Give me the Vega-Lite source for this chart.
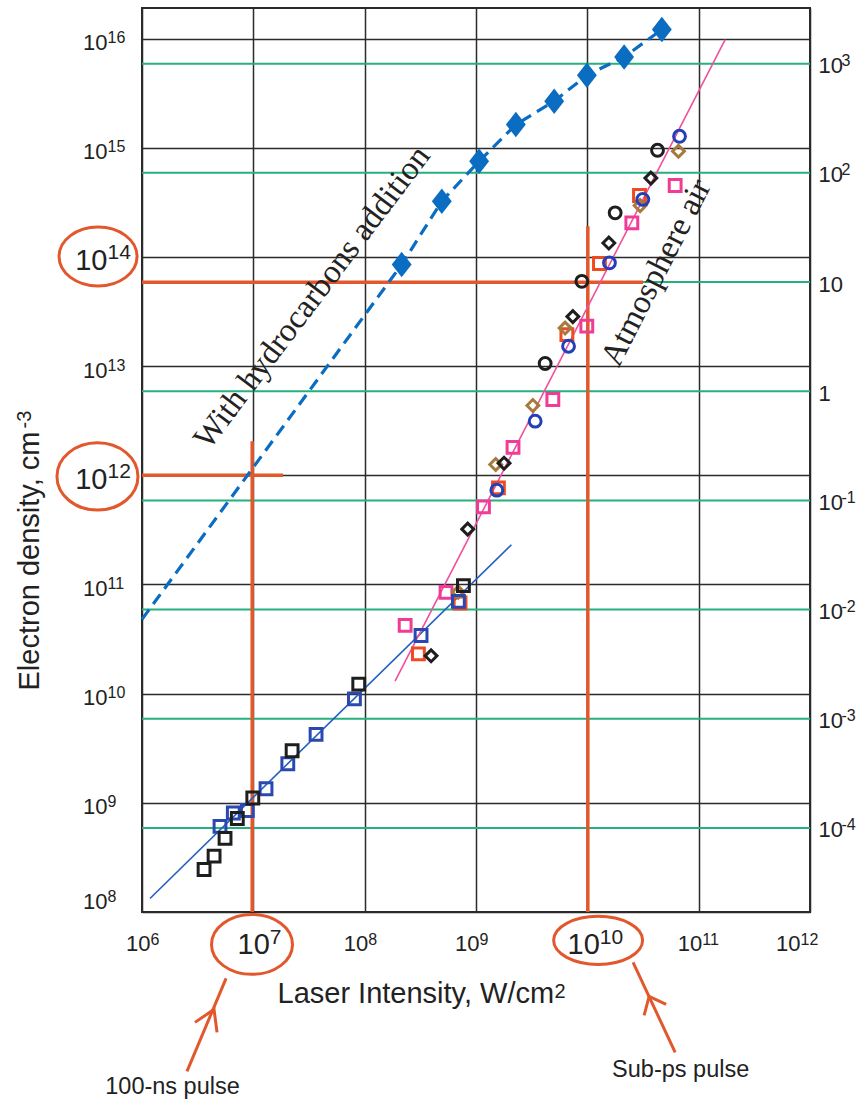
{
  "$schema": "https://vega.github.io/schema/vega-lite/v6.json",
  "width": 668,
  "height": 904,
  "autosize": {"type": "none"},
  "padding": {"left": 142, "top": 8, "right": 51, "bottom": 190},
  "background": "white",
  "config": {
    "view": {"stroke": "#2b2b2b", "strokeWidth": 2},
    "axis": {
      "labelFont": "Liberation Sans",
      "titleFont": "Liberation Sans",
      "labelColor": "#222222",
      "titleColor": "#222222",
      "titleFontWeight": "normal",
      "domain": false,
      "ticks": false,
      "tickSize": 0,
      "labelFlush": false,
      "labelOverlap": false,
      "grid": false
    }
  },
  "datasets": {
    "green": [{"v": 1e-4}, {"v": 1e-3}, {"v": 1e-2}, {"v": 0.1}, {"v": 1}, {"v": 10}, {"v": 100}, {"v": 1000}],
    "cross": [
      {"x": 1e6, "x2": 1.85e7, "y": 1e12, "y2": 1e12},
      {"x": 9.77e6, "x2": 9.77e6, "y": 1e8, "y2": 2.05e12},
      {"x": 1e6, "x2": 3.16e10, "y": 5.86e13, "y2": 5.86e13},
      {"x": 1.01e10, "x2": 1.01e10, "y": 1e8, "y2": 1.91e14}
    ],
    "fits": [
      {"fit": "ns", "x": 1.18e6, "y": 1.33e8},
      {"fit": "ns", "x": 2.08e9, "y": 2.31e11},
      {"fit": "air", "x": 1.875e8, "y": 1.3e10},
      {"fit": "air", "x": 1.73e11, "y": 9.77e15}
    ],
    "hydro": [
      {"k": "fit", "x": 1e6, "y": 4.79e10},
      {"k": "m", "x": 2.15e8, "y": 8.51e13},
      {"k": "m", "x": 4.93e8, "y": 3.24e14},
      {"k": "m", "x": 1.067e9, "y": 7.52e14},
      {"k": "m", "x": 2.28e9, "y": 1.63e15},
      {"k": "m", "x": 5.04e9, "y": 2.67e15},
      {"k": "m", "x": 9.91e9, "y": 4.61e15},
      {"k": "m", "x": 2.14e10, "y": 6.79e15},
      {"k": "m", "x": 4.67e10, "y": 1.208e16}
    ],
    "pts": [
      {"s": "rsq", "x": 3.04e8, "y": 2.31e10},
      {"s": "rsq", "x": 7.19e8, "y": 6.76e10},
      {"s": "rsq", "x": 1.59e9, "y": 7.67e11},
      {"s": "rsq", "x": 6.55e9, "y": 1.945e13},
      {"s": "rsq", "x": 1.285e10, "y": 8.71e13},
      {"s": "rsq", "x": 2.94e10, "y": 3.65e14},
      {"s": "psq", "x": 2.31e8, "y": 4.22e10},
      {"s": "psq", "x": 5.38e8, "y": 8.47e10},
      {"s": "psq", "x": 1.167e9, "y": 5.14e11},
      {"s": "psq", "x": 2.15e9, "y": 1.8e12},
      {"s": "psq", "x": 4.9e9, "y": 4.94e12},
      {"s": "psq", "x": 9.89e9, "y": 2.32e13},
      {"s": "psq", "x": 2.51e10, "y": 2.05e14},
      {"s": "psq", "x": 6.15e10, "y": 4.51e14},
      {"s": "brdi", "x": 6.92e8, "y": 8.51e10},
      {"s": "brdi", "x": 1.503e9, "y": 1.256e12},
      {"s": "brdi", "x": 3.24e9, "y": 4.36e12},
      {"s": "brdi", "x": 6.31e9, "y": 2.23e13},
      {"s": "brdi", "x": 2.98e10, "y": 2.95e14},
      {"s": "brdi", "x": 6.58e10, "y": 9.29e14},
      {"s": "bdi", "x": 3.95e8, "y": 2.22e10},
      {"s": "bdi", "x": 8.43e8, "y": 3.21e11},
      {"s": "bdi", "x": 1.786e9, "y": 1.291e12},
      {"s": "bdi", "x": 7.41e9, "y": 2.84e13},
      {"s": "bdi", "x": 1.56e10, "y": 1.34e14},
      {"s": "bdi", "x": 3.72e10, "y": 5.27e14},
      {"s": "blsq", "x": 5.02e6, "y": 6.08e8},
      {"s": "blsq", "x": 6.61e6, "y": 8.07e8},
      {"s": "blsq", "x": 8.83e6, "y": 8.51e8},
      {"s": "blsq", "x": 1.3e7, "y": 1.346e9},
      {"s": "blsq", "x": 2.04e7, "y": 2.28e9},
      {"s": "blsq", "x": 3.66e7, "y": 4.23e9},
      {"s": "blsq", "x": 8.09e7, "y": 8.97e9},
      {"s": "blsq", "x": 3.21e8, "y": 3.41e10},
      {"s": "blsq", "x": 6.95e8, "y": 7.0e10},
      {"s": "bsq", "x": 3.61e6, "y": 2.45e8},
      {"s": "bsq", "x": 4.44e6, "y": 3.25e8},
      {"s": "bsq", "x": 5.57e6, "y": 4.72e8},
      {"s": "bsq", "x": 7.18e6, "y": 7.19e8},
      {"s": "bsq", "x": 9.89e6, "y": 1.107e9},
      {"s": "bsq", "x": 2.23e7, "y": 3.0e9},
      {"s": "bsq", "x": 8.85e7, "y": 1.224e10},
      {"s": "bsq", "x": 7.71e8, "y": 9.77e10},
      {"s": "blci", "x": 1.538e9, "y": 7.31e11},
      {"s": "blci", "x": 3.4e9, "y": 3.13e12},
      {"s": "blci", "x": 6.78e9, "y": 1.521e13},
      {"s": "blci", "x": 1.58e10, "y": 8.83e13},
      {"s": "blci", "x": 3.15e10, "y": 3.36e14},
      {"s": "blci", "x": 6.73e10, "y": 1.274e15},
      {"s": "bci", "x": 4.18e9, "y": 1.057e13},
      {"s": "bci", "x": 8.93e9, "y": 5.98e13},
      {"s": "bci", "x": 1.778e10, "y": 2.535e14},
      {"s": "bci", "x": 4.27e10, "y": 9.48e14}
    ],
    "arrows": [
      {"part": "a1s", "x": 2.535e6, "y": 3.467e6},
      {"part": "a1s", "x": 5.69e6, "y": 2.466e7},
      {"part": "a1h", "x": 2.99e6, "y": 9.75e6},
      {"part": "a1h", "x": 4.436e6, "y": 1.282e7},
      {"part": "a1h", "x": 4.72e6, "y": 7.89e6},
      {"part": "a2s", "x": 6.15e10, "y": 5.18e6},
      {"part": "a2s", "x": 2.576e10, "y": 3.45e7},
      {"part": "a2h", "x": 3.236e10, "y": 1.13e7},
      {"part": "a2h", "x": 3.59e10, "y": 1.687e7},
      {"part": "a2h", "x": 5.105e10, "y": 1.426e7}
    ],
    "ellipses": [
      {"name": "e14", "x": 4.03e5, "y": 1.009e14},
      {"name": "e12", "x": 3.98e5, "y": 9.75e11},
      {"name": "e7", "x": 9.73e6, "y": 5.05e7},
      {"name": "e10", "x": 1.25e10, "y": 5.5e7}
    ],
    "notes": [
      {"label": "100-ns pulse", "x": 1.88e6, "y": 2.14e6},
      {"label": "Sub-ps pulse", "x": 6.89e10, "y": 3.05e6}
    ]
  },
  "layer": [
    {
      "data": {"name": "green"},
      "layer": [
        {
          "mark": {"type": "rule", "color": "#25b07c", "strokeWidth": 2},
          "encoding": {
            "y": {
              "field": "v", "type": "quantitative",
              "scale": {"type": "log", "domain": [1.698e-5, 3236], "nice": false},
              "axis": {
                "orient": "right",
                "values": [1e-4, 1e-3, 1e-2, 0.1, 1, 10, 100, 1000],
                "labelExpr": "datum.value > 0.5 && datum.value < 2 ? '1' : '10'",
                "labelAlign": "left", "labelBaseline": "middle",
                "labelPadding": 8, "labelFontSize": 22, "labelOffset": 2,
                "title": null
              }
            }
          }
        },
        {
          "mark": {"type": "rule", "opacity": 0},
          "encoding": {
            "y": {
              "field": "v", "type": "quantitative",
              "scale": {"type": "log", "domain": [1.698e-5, 3236], "nice": false},
              "axis": {
                "orient": "right",
                "values": [1e-4, 1e-3, 1e-2, 0.1, 1, 10, 100, 1000],
                "labelExpr": "datum.value > 0.5 && datum.value < 20 ? '' : '' + round(log(datum.value)/LN10)",
                "labelAlign": "left", "labelBaseline": "middle",
                "labelPadding": 31, "labelFontSize": 16, "labelOffset": -3,
                "title": null
              }
            }
          }
        }
      ],
      "resolve": {"axis": {"y": "independent"}}
    },
    {
      "layer": [
        {
          "data": {"name": "cross"},
          "mark": {"type": "rule", "color": "#e2582c", "strokeWidth": 3.5},
          "encoding": {
            "x": {
              "field": "x", "type": "quantitative",
              "scale": {"type": "log", "domain": [1e6, 1e12], "nice": false},
              "axis": {
                "orient": "bottom",
                "values": [1e6, 1e7, 1e8, 1e9, 1e10, 1e11, 1e12],
                "grid": true, "gridColor": "#2b2b2b", "gridWidth": 1.5,
                "labelExpr": "'10'",
                "labelAlign": "right", "labelBaseline": "top",
                "labelFontSize": {"condition": {"test": "abs(log(datum.value)/LN10-7)<0.01 || abs(log(datum.value)/LN10-10)<0.01", "value": 29}, "value": 22},
                "labelPadding": {"condition": {"test": "abs(log(datum.value)/LN10-7)<0.01 || abs(log(datum.value)/LN10-10)<0.01", "value": 18}, "value": 21},
                "labelOffset": {"condition": [
                  {"test": "abs(log(datum.value)/LN10-6)<0.01", "value": 8},
                  {"test": "abs(log(datum.value)/LN10-7)<0.01", "value": 16},
                  {"test": "abs(log(datum.value)/LN10-10)<0.01", "value": 12},
                  {"test": "abs(log(datum.value)/LN10-12)<0.01", "value": -10}
                ], "value": 3},
                "title": "Laser Intensity, W/cm",
                "titleFontSize": 29, "titleX": 135, "titleY": 90,
                "titleAlign": "left", "titleBaseline": "alphabetic", "titleAngle": 0
              }
            },
            "x2": {"field": "x2"},
            "y": {
              "field": "y", "type": "quantitative",
              "scale": {"type": "log", "domain": [1e8, 1.905e16], "nice": false},
              "axis": {
                "orient": "left",
                "values": [1e8, 1e9, 1e10, 1e11, 1e12, 1e13, 1e14, 1e15, 1e16],
                "grid": true, "gridColor": "#2b2b2b", "gridWidth": 1.5,
                "labelExpr": "'10'",
                "labelAlign": "right", "labelBaseline": "middle",
                "labelPadding": 35,
                "labelFontSize": {"condition": {"test": "abs(log(datum.value)/LN10-14)<0.01 || abs(log(datum.value)/LN10-12)<0.01", "value": 29}, "value": 22},
                "labelOffset": {"condition": {"test": "abs(log(datum.value)/LN10-8)<0.01", "value": -11}, "value": 4},
                "title": "Electron density, cm",
                "titleFontSize": 29, "titleAngle": 270, "titleX": -104, "titleY": 682,
                "titleAlign": "left", "titleBaseline": "alphabetic"
              }
            },
            "y2": {"field": "y2"}
          }
        },
        {
          "data": {"name": "fits"},
          "transform": [{"filter": "datum.fit == 'ns'"}],
          "mark": {"type": "line", "color": "#2060c0", "strokeWidth": 1.6},
          "encoding": {
            "x": {
              "field": "x", "type": "quantitative",
              "scale": {"type": "log", "domain": [1e6, 1e12], "nice": false},
              "axis": {
                "orient": "bottom",
                "values": [1e6, 1e7, 1e8, 1e9, 1e10, 1e11, 1e12],
                "labelExpr": "'' + round(log(datum.value)/LN10)",
                "labelAlign": "left", "labelBaseline": "top",
                "labelFontSize": {"condition": {"test": "abs(log(datum.value)/LN10-7)<0.01 || abs(log(datum.value)/LN10-10)<0.01", "value": 21}, "value": 16},
                "labelPadding": {"condition": {"test": "abs(log(datum.value)/LN10-7)<0.01 || abs(log(datum.value)/LN10-10)<0.01", "value": 14}, "value": 19},
                "labelOffset": {"condition": [
                  {"test": "abs(log(datum.value)/LN10-6)<0.01", "value": 8},
                  {"test": "abs(log(datum.value)/LN10-7)<0.01", "value": 16},
                  {"test": "abs(log(datum.value)/LN10-10)<0.01", "value": 12},
                  {"test": "abs(log(datum.value)/LN10-12)<0.01", "value": -10}
                ], "value": 3},
                "title": "2",
                "titleFontSize": 20, "titleX": 412, "titleY": 85,
                "titleAlign": "left", "titleBaseline": "alphabetic", "titleAngle": 0
              }
            },
            "y": {
              "field": "y", "type": "quantitative",
              "scale": {"type": "log", "domain": [1e8, 1.905e16], "nice": false},
              "axis": {
                "orient": "left",
                "values": [1e8, 1e9, 1e10, 1e11, 1e12, 1e13, 1e14, 1e15, 1e16],
                "labelExpr": "'' + round(log(datum.value)/LN10)",
                "labelAlign": "left", "labelBaseline": "middle",
                "labelPadding": 35,
                "labelFontSize": {"condition": {"test": "abs(log(datum.value)/LN10-14)<0.01 || abs(log(datum.value)/LN10-12)<0.01", "value": 21}, "value": 16},
                "labelOffset": {"condition": [
                  {"test": "abs(log(datum.value)/LN10-8)<0.01", "value": -16},
                  {"test": "abs(log(datum.value)/LN10-14)<0.01 || abs(log(datum.value)/LN10-12)<0.01", "value": -4}
                ], "value": -1},
                "title": "-3",
                "titleFontSize": 20, "titleAngle": 270, "titleX": -112, "titleY": 420,
                "titleAlign": "left", "titleBaseline": "alphabetic"
              }
            }
          }
        },
        {
          "data": {"name": "fits"},
          "transform": [{"filter": "datum.fit == 'air'"}],
          "mark": {"type": "line", "color": "#f0509c", "strokeWidth": 1.6},
          "encoding": {
            "x": {"field": "x", "type": "quantitative", "scale": {"type": "log", "domain": [1e6, 1e12], "nice": false}, "axis": null},
            "y": {"field": "y", "type": "quantitative", "scale": {"type": "log", "domain": [1e8, 1.905e16], "nice": false}, "axis": null}
          }
        },
        {
          "data": {"name": "hydro"},
          "mark": {"type": "line", "color": "#0b6dc2", "strokeWidth": 3.2, "strokeDash": [12, 7]},
          "encoding": {
            "x": {"field": "x", "type": "quantitative", "scale": {"type": "log", "domain": [1e6, 1e12], "nice": false}, "axis": null},
            "y": {"field": "y", "type": "quantitative", "scale": {"type": "log", "domain": [1e8, 1.905e16], "nice": false}, "axis": null}
          }
        },
        {
          "data": {"name": "hydro"},
          "transform": [{"filter": "datum.k == 'm'"}],
          "mark": {"type": "point", "shape": "M 0 -1 L 0.78 0 L 0 1 L -0.78 0 Z", "size": 650, "filled": true, "opacity": 1, "color": "#0b6dc2"},
          "encoding": {
            "x": {"field": "x", "type": "quantitative", "scale": {"type": "log", "domain": [1e6, 1e12], "nice": false}, "axis": null},
            "y": {"field": "y", "type": "quantitative", "scale": {"type": "log", "domain": [1e8, 1.905e16], "nice": false}, "axis": null}
          }
        },
        {
          "data": {"name": "pts"},
          "mark": {"type": "point", "filled": false, "opacity": 1, "strokeWidth": 3},
          "encoding": {
            "x": {"field": "x", "type": "quantitative", "scale": {"type": "log", "domain": [1e6, 1e12], "nice": false}, "axis": null},
            "y": {"field": "y", "type": "quantitative", "scale": {"type": "log", "domain": [1e8, 1.905e16], "nice": false}, "axis": null},
            "color": {"field": "s", "type": "nominal", "legend": null, "scale": {
              "domain": ["rsq", "psq", "brdi", "bdi", "blsq", "bsq", "blci", "bci"],
              "range": ["#f04a22", "#f03c96", "#a67a3c", "#1e1e1e", "#2a48b0", "#1e1e1e", "#2440b8", "#1e1e1e"]}},
            "shape": {"field": "s", "type": "nominal", "legend": null, "scale": {
              "domain": ["rsq", "psq", "brdi", "bdi", "blsq", "bsq", "blci", "bci"],
              "range": ["square", "square", "diamond", "diamond", "square", "square", "circle", "circle"]}},
            "size": {"field": "s", "type": "ordinal", "legend": null, "scale": {
              "domain": ["rsq", "psq", "brdi", "bdi", "blsq", "bsq", "blci", "bci"],
              "range": [140, 140, 290, 290, 145, 150, 200, 125]}}
          }
        },
        {
          "data": {"values": [{"label": "With hydrocarbons addition", "x": 3.37e7, "y": 4.25e13}]},
          "mark": {"type": "text", "font": "Liberation Serif", "fontSize": 33, "angle": 307, "align": "center", "baseline": "middle", "color": "#222222", "clip": false},
          "encoding": {
            "x": {"field": "x", "type": "quantitative", "scale": {"type": "log", "domain": [1e6, 1e12], "nice": false}, "axis": null},
            "y": {"field": "y", "type": "quantitative", "scale": {"type": "log", "domain": [1e8, 1.905e16], "nice": false}, "axis": null},
            "text": {"field": "label"}
          }
        },
        {
          "data": {"values": [{"label": "Atmosphere air", "x": 4.15e10, "y": 7.19e13}]},
          "mark": {"type": "text", "font": "Liberation Serif", "fontSize": 33, "angle": 297, "align": "center", "baseline": "middle", "color": "#222222", "clip": false},
          "encoding": {
            "x": {"field": "x", "type": "quantitative", "scale": {"type": "log", "domain": [1e6, 1e12], "nice": false}, "axis": null},
            "y": {"field": "y", "type": "quantitative", "scale": {"type": "log", "domain": [1e8, 1.905e16], "nice": false}, "axis": null},
            "text": {"field": "label"}
          }
        },
        {
          "data": {"name": "notes"},
          "mark": {"type": "text", "font": "Liberation Sans", "fontSize": 23.5, "align": "center", "baseline": "alphabetic", "color": "#222222", "clip": false},
          "encoding": {
            "x": {"field": "x", "type": "quantitative", "scale": {"type": "log", "domain": [1e6, 1e12], "nice": false}, "axis": null},
            "y": {"field": "y", "type": "quantitative", "scale": {"type": "log", "domain": [1e8, 1.905e16], "nice": false}, "axis": null},
            "text": {"field": "label"}
          }
        },
        {
          "data": {"name": "arrows"},
          "mark": {"type": "line", "color": "#e2582c", "strokeWidth": 3, "clip": false},
          "encoding": {
            "x": {"field": "x", "type": "quantitative", "scale": {"type": "log", "domain": [1e6, 1e12], "nice": false}, "axis": null},
            "y": {"field": "y", "type": "quantitative", "scale": {"type": "log", "domain": [1e8, 1.905e16], "nice": false}, "axis": null},
            "detail": {"field": "part"}
          }
        },
        {
          "data": {"name": "ellipses"},
          "transform": [{"filter": "datum.name == 'e14'"}],
          "mark": {"type": "point", "shape": "M -1 0 A 1 0.756 0 1 1 1 0 A 1 0.756 0 1 1 -1 0 Z", "size": 6084, "filled": false, "opacity": 1, "color": "#e2582c", "strokeWidth": 3, "clip": false},
          "encoding": {
            "x": {"field": "x", "type": "quantitative", "scale": {"type": "log", "domain": [1e6, 1e12], "nice": false}, "axis": null},
            "y": {"field": "y", "type": "quantitative", "scale": {"type": "log", "domain": [1e8, 1.905e16], "nice": false}, "axis": null}
          }
        },
        {
          "data": {"name": "ellipses"},
          "transform": [{"filter": "datum.name == 'e12'"}],
          "mark": {"type": "point", "shape": "M -1 0 A 1 0.83 0 1 1 1 0 A 1 0.83 0 1 1 -1 0 Z", "size": 6561, "filled": false, "opacity": 1, "color": "#e2582c", "strokeWidth": 3, "clip": false},
          "encoding": {
            "x": {"field": "x", "type": "quantitative", "scale": {"type": "log", "domain": [1e6, 1e12], "nice": false}, "axis": null},
            "y": {"field": "y", "type": "quantitative", "scale": {"type": "log", "domain": [1e8, 1.905e16], "nice": false}, "axis": null}
          }
        },
        {
          "data": {"name": "ellipses"},
          "transform": [{"filter": "datum.name == 'e7'"}],
          "mark": {"type": "point", "shape": "M -1 0 A 1 0.74 0 1 1 1 0 A 1 0.74 0 1 1 -1 0 Z", "size": 6561, "filled": false, "opacity": 1, "color": "#e2582c", "strokeWidth": 3, "clip": false},
          "encoding": {
            "x": {"field": "x", "type": "quantitative", "scale": {"type": "log", "domain": [1e6, 1e12], "nice": false}, "axis": null},
            "y": {"field": "y", "type": "quantitative", "scale": {"type": "log", "domain": [1e8, 1.905e16], "nice": false}, "axis": null}
          }
        },
        {
          "data": {"name": "ellipses"},
          "transform": [{"filter": "datum.name == 'e10'"}],
          "mark": {"type": "point", "shape": "M -1 0 A 1 0.54 0 1 1 1 0 A 1 0.54 0 1 1 -1 0 Z", "size": 7921, "filled": false, "opacity": 1, "color": "#e2582c", "strokeWidth": 3, "clip": false},
          "encoding": {
            "x": {"field": "x", "type": "quantitative", "scale": {"type": "log", "domain": [1e6, 1e12], "nice": false}, "axis": null},
            "y": {"field": "y", "type": "quantitative", "scale": {"type": "log", "domain": [1e8, 1.905e16], "nice": false}, "axis": null}
          }
        }
      ],
      "resolve": {"axis": {"x": "independent", "y": "independent"}}
    }
  ],
  "resolve": {"scale": {"y": "independent"}, "axis": {"y": "independent"}}
}
